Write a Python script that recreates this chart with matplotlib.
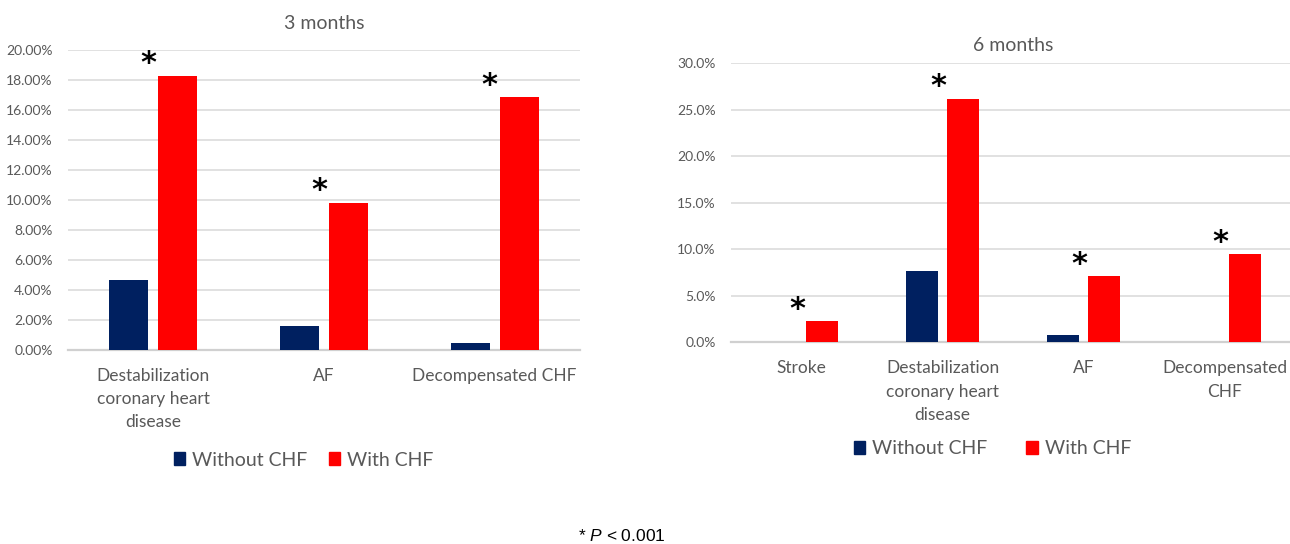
import numpy as np
import matplotlib.pyplot as plt
from matplotlib.patches import Patch

# data (percent)
cats_3m = ['Destabilization\ncoronary heart\ndisease', 'AF', 'Decompensated CHF']
without_3m = [4.67, 1.6, 0.45]
with_3m = [18.3, 9.83, 16.87]

cats_6m = ['Stroke', 'Destabilization\ncoronary heart\ndisease', 'AF', 'Decompensated\nCHF']
without_6m = [0.0, 7.7, 0.8, 0.0]
with_6m = [2.27, 26.2, 7.1, 9.47]

# colours
navy = '#002060'
red = '#FF0000'
grey_text = '#595959'

plt.rcParams['font.family'] = ['Lato', 'DejaVu Sans']
plt.rcParams['mathtext.fontset'] = 'custom'
plt.rcParams['mathtext.it'] = 'Liberation Sans:italic'
plt.rcParams['mathtext.rm'] = 'Liberation Sans'

fig = plt.figure(figsize=(12.9, 5.44), dpi=100)

ax1 = fig.add_axes([68 / 1290, 1 - 350 / 544, 512 / 1290, 300 / 544])
ax2 = fig.add_axes([731 / 1290, 1 - 342.3 / 544, 564 / 1290, 279 / 544])

width = 0.227
gap = 0.03


def draw_panel(ax, cats, without, with_, ymax, step, fmt, title, leg_pos):
    x = np.arange(len(cats))
    ax.bar(x - width / 2 - gap, without, width, color=navy, zorder=3)
    ax.bar(x + width / 2 + gap, with_, width, color=red, zorder=3)

    # significance stars over the CHF bars
    for xi, v in zip(x, with_):
        ax.annotate('*', xy=(xi - 0.03, v), xytext=(0, -2), textcoords='offset points',
                    ha='center', va='bottom', fontsize=22, fontweight='bold',
                    family='DejaVu Sans', color='black', zorder=4)

    ax.set_xlim(-0.5, len(cats) - 0.5)
    ax.set_ylim(0, ymax)
    ticks = np.arange(0, ymax + step / 2, step)
    ax.set_yticks(ticks)
    ax.set_yticklabels([fmt.format(t) for t in ticks])
    ax.set_xticks(x)
    ax.set_xticklabels(cats, linespacing=1.55)
    ax.grid(axis='y', color='#d9d9d9', linewidth=1.1, zorder=0)
    for s in ['top', 'right', 'left']:
        ax.spines[s].set_visible(False)
    ax.spines['bottom'].set_color('#d0d0d0')
    ax.spines['bottom'].set_linewidth(1.6)
    ax.tick_params(axis='y', length=0, pad=11, labelsize=10, labelcolor=grey_text)
    ax.tick_params(axis='x', length=0, pad=13, labelsize=12.5, labelcolor=grey_text)
    ax.set_title(title, fontsize=14, color=grey_text, pad=leg_pos[2])

    handles = [Patch(color=navy, label='Without CHF'), Patch(color=red, label='With CHF')]
    fig.legend(handles=handles, loc='center', bbox_to_anchor=(leg_pos[0], leg_pos[1]),
               ncol=2, frameon=False, fontsize=14, handlelength=0.6, handleheight=0.6,
               handletextpad=0.35, columnspacing=leg_pos[3], labelcolor=grey_text)


draw_panel(ax1, cats_3m, without_3m, with_3m, 20, 2, '{:.2f}%', '3 months',
           (303.5 / 1290, 1 - 460 / 544, 15, 1.1))
draw_panel(ax2, cats_6m, without_6m, with_6m, 30, 5, '{:.1f}%', '6 months',
           (992.5 / 1290, 1 - 449 / 544, 9, 2.0))

fig.text(622 / 1290, 1 - 536 / 544, '* $P$ < 0.001', ha='center', va='center',
         fontsize=12.5, family='Liberation Sans', color='black')

fig.savefig('out.png', dpi=100)
